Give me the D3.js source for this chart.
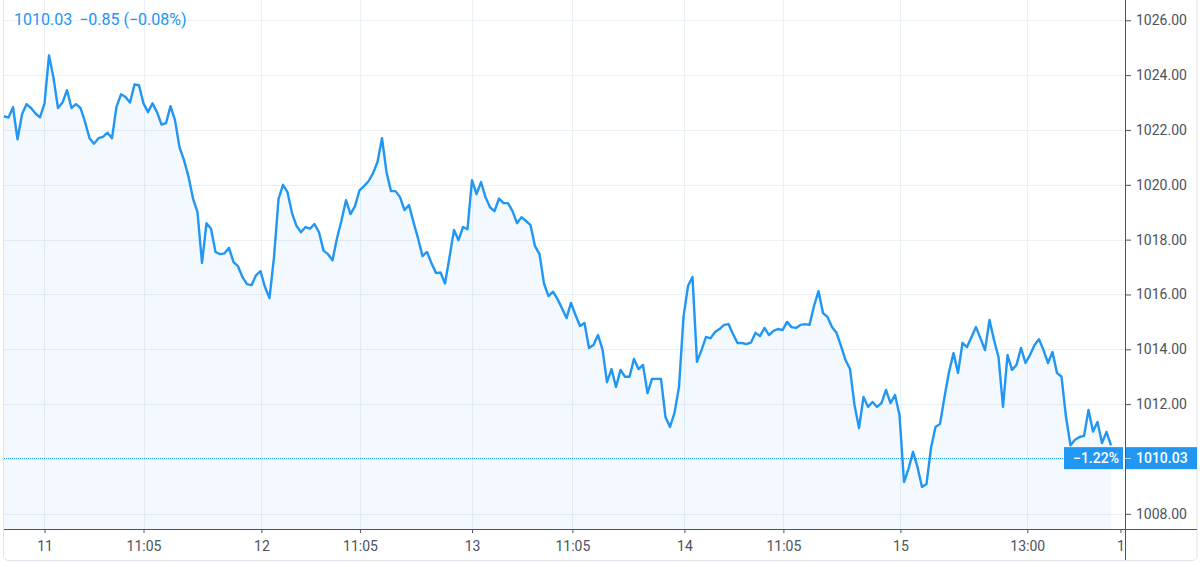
<!DOCTYPE html>
<html>
<head>
<meta charset="utf-8">
<script src="https://cdn.jsdelivr.net/npm/d3@7"></script>
<style>
  html, body { margin: 0; padding: 0; background: #ffffff; }
  svg { display: block; font-family: Roboto, "Liberation Sans", sans-serif; }
</style>
</head>
<body>
<svg id="chart" width="1200" height="567"></svg>
<script>
// ---- data ----
const prices = [
  1022.5, 1022.45, 1022.83, 1021.66, 1022.57, 1022.94, 1022.8, 1022.6, 1022.46, 1022.97,
  1024.72, 1023.9, 1022.8, 1023.0, 1023.45, 1022.8, 1022.94, 1022.8, 1022.3, 1021.7,
  1021.5, 1021.7, 1021.75, 1021.9, 1021.7, 1022.85, 1023.3, 1023.2, 1023.0, 1023.66,
  1023.63, 1022.97, 1022.65, 1022.97, 1022.65, 1022.2, 1022.25, 1022.87, 1022.36, 1021.37,
  1020.9, 1020.3, 1019.5, 1019.0, 1017.15, 1018.6, 1018.4, 1017.55, 1017.47, 1017.5,
  1017.7, 1017.18, 1017.03, 1016.63, 1016.38, 1016.34, 1016.7, 1016.85, 1016.27, 1015.87,
  1017.36, 1019.48, 1020.0, 1019.73, 1018.97, 1018.5, 1018.27, 1018.46, 1018.4, 1018.57,
  1018.27, 1017.6, 1017.47, 1017.25, 1018.05, 1018.7, 1019.44, 1018.93, 1019.22, 1019.8,
  1019.95, 1020.13, 1020.42, 1020.83, 1021.7, 1020.46, 1019.77, 1019.77, 1019.55, 1019.08,
  1019.26, 1018.64, 1018.05, 1017.4, 1017.55, 1017.14, 1016.78, 1016.8, 1016.4, 1017.36,
  1018.35, 1017.98, 1018.46, 1018.38, 1020.17, 1019.66, 1020.1, 1019.55, 1019.18, 1019.04,
  1019.5, 1019.33, 1019.33, 1019.04, 1018.6, 1018.82, 1018.68, 1018.53, 1017.76, 1017.47,
  1016.4, 1015.94, 1016.1, 1015.83, 1015.5, 1015.14, 1015.69, 1015.25, 1014.85, 1014.96,
  1014.05, 1014.16, 1014.52, 1014.0, 1012.8, 1013.28, 1012.63, 1013.25, 1013.0, 1013.0,
  1013.65, 1013.28, 1013.43, 1012.4, 1012.92, 1012.92, 1012.92, 1011.53, 1011.17, 1011.68,
  1012.63, 1015.18, 1016.31, 1016.64, 1013.54, 1013.97, 1014.45, 1014.4, 1014.63, 1014.74,
  1014.89, 1014.92, 1014.56, 1014.23, 1014.23, 1014.19, 1014.25, 1014.6, 1014.48, 1014.78,
  1014.52, 1014.67, 1014.74, 1014.7, 1015.0, 1014.81, 1014.78, 1014.89, 1014.92, 1014.89,
  1015.58, 1016.12, 1015.32, 1015.18, 1014.81, 1014.6, 1014.12, 1013.61, 1013.28, 1011.97,
  1011.13, 1012.26, 1011.9, 1012.08, 1011.9, 1012.04, 1012.52, 1012.04, 1012.33, 1011.6,
  1009.16, 1009.64, 1010.26, 1009.71, 1008.98, 1009.09, 1010.4, 1011.17, 1011.28, 1012.26,
  1013.17, 1013.86, 1013.14, 1014.23, 1014.08, 1014.45, 1014.81, 1014.4, 1013.97, 1015.07,
  1014.34, 1013.72, 1011.9, 1013.79, 1013.25, 1013.43, 1014.05, 1013.5, 1013.79, 1014.16,
  1014.37, 1013.97, 1013.5, 1013.9, 1013.14, 1013.0, 1011.53, 1010.5, 1010.7, 1010.8,
  1010.84, 1011.79, 1011.0, 1011.35, 1010.58, 1010.99, 1010.5
];
const xTickPositions = [9, 31, 57.2, 79.1, 104, 126.3, 151.2, 173.2, 199.2, 227.4, 248.1];
const xTickLabels = ["11", "11:05", "12", "11:05", "13", "11:05", "14", "11:05", "15", "13:00", "1"];
const yTickValues = [1008, 1010, 1012, 1014, 1016, 1018, 1020, 1022, 1024, 1026];
const lastPrice = 1010.03;
const headerLast = "1010.03";
const headerChange = "\u22120.85 (\u22120.08%)";
const pctLabel = "\u22121.22%";

// ---- layout ----
const svg = d3.select("#chart");
const plotLeft = 4, plotRight = 1125, plotTop = 0, plotBottom = 529;
const lineColor = "#2196f3";
const gridColor = "#eaf0f6";
const axisColor = "#50535e";
const textColor = "#4c525e";

const x = d3.scaleLinear().domain([0, prices.length - 1]).range([4, 1111]);
const y = d3.scaleLinear().domain([1008, 1026]).range([513.8, 20.3]);

// outer frame
svg.append("rect")
  .attr("x", 3.5).attr("y", -4).attr("width", 1193.5).attr("height", 564.5)
  .attr("rx", 5).attr("fill", "none").attr("stroke", "#e0e3eb");

// grid
const grid = svg.append("g");
grid.selectAll("line.h").data(yTickValues).join("line")
  .attr("x1", plotLeft).attr("x2", plotRight)
  .attr("y1", d => Math.round(y(d)) + 0.5).attr("y2", d => Math.round(y(d)) + 0.5)
  .attr("stroke", gridColor);
grid.selectAll("line.v").data(xTickPositions.slice(0, -1)).join("line")
  .attr("x1", d => Math.round(x(d)) + 0.5).attr("x2", d => Math.round(x(d)) + 0.5)
  .attr("y1", plotTop).attr("y2", plotBottom)
  .attr("stroke", gridColor);

// area + line
const area = d3.area().x((d, i) => x(i)).y0(plotBottom).y1(d => y(d));
const line = d3.line().x((d, i) => x(i)).y(d => y(d));
svg.append("path").datum(prices).attr("d", area)
  .attr("fill", lineColor).attr("fill-opacity", 0.055);
svg.append("path").datum(prices).attr("d", line)
  .attr("fill", "none").attr("stroke", lineColor).attr("stroke-width", 2.4)
  .attr("stroke-linejoin", "round");

// last price dotted line
svg.append("line")
  .attr("x1", plotLeft).attr("x2", 1064)
  .attr("y1", Math.round(y(lastPrice)) + 0.5).attr("y2", Math.round(y(lastPrice)) + 0.5)
  .attr("stroke", lineColor).attr("stroke-width", 1).attr("stroke-dasharray", "1,1");

// y axis (right)
const yAxis = d3.axisRight(y).tickValues(yTickValues).tickSize(6).tickPadding(5)
  .tickFormat(d3.format(".2f"));
const gy = svg.append("g").attr("transform", `translate(${plotRight},0)`).call(yAxis);
gy.select(".domain").remove();
gy.selectAll(".tick line").attr("stroke", axisColor);
gy.selectAll(".tick text").attr("fill", textColor).attr("font-size", 14)
  .attr("font-family", "Roboto, sans-serif");
svg.append("line").attr("x1", plotRight + 0.5).attr("x2", plotRight + 0.5)
  .attr("y1", 0).attr("y2", 560).attr("stroke", axisColor);

// x axis (bottom)
const xAxis = d3.axisBottom(x).tickValues(xTickPositions).tickSize(4).tickPadding(8)
  .tickFormat((d, i) => xTickLabels[i]);
const gx = svg.append("g").attr("transform", `translate(0,${plotBottom})`).call(xAxis);
gx.select(".domain").remove();
gx.selectAll(".tick line").attr("stroke", axisColor);
gx.selectAll(".tick text").attr("fill", textColor).attr("font-size", 14)
  .attr("font-family", "Roboto, sans-serif");
svg.append("line").attr("x1", plotLeft).attr("x2", 1197)
  .attr("y1", plotBottom + 0.5).attr("y2", plotBottom + 0.5).attr("stroke", axisColor);

// last price labels
const ly = y(lastPrice);
svg.append("rect").attr("x", 1064).attr("y", ly - 11).attr("width", 59).attr("height", 22)
  .attr("fill", lineColor);
svg.append("text").attr("x", 1096).attr("y", ly).attr("dy", "0.35em")
  .attr("text-anchor", "middle").attr("fill", "#fff").attr("font-size", 14)
  .attr("font-weight", 500).text(pctLabel);
svg.append("rect").attr("x", 1126).attr("y", ly - 11).attr("width", 71).attr("height", 22)
  .attr("fill", lineColor);
svg.append("line").attr("x1", 1125).attr("x2", 1131)
  .attr("y1", Math.round(ly) + 0.5).attr("y2", Math.round(ly) + 0.5)
  .attr("stroke", "#ffffff").attr("stroke-opacity", 0.7);
svg.append("text").attr("x", 1136).attr("y", ly).attr("dy", "0.35em")
  .attr("fill", "#fff").attr("font-size", 14).attr("font-weight", 500).text(lastPrice.toFixed(2));

// header
const header = svg.append("text").attr("x", 14).attr("y", 25)
  .attr("fill", lineColor).attr("font-size", 16);
header.append("tspan").text(headerLast);
header.append("tspan").attr("dx", 7).text(headerChange);
</script>
</body>
</html>
